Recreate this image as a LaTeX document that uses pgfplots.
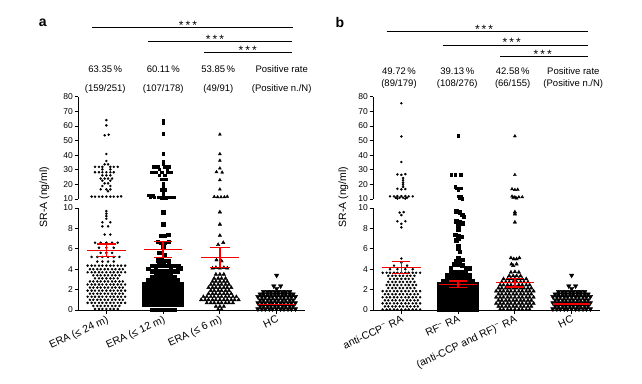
\documentclass[border=0pt]{standalone}
\usepackage{fontspec}
\setmainfont{Liberation Sans}
\usepackage{pgfplots}
\pgfplotsset{compat=1.18}
\definecolor{mred}{RGB}{245,0,0}
\pgfplotsset{
  brk/.style={scale only axis, width=227pt, xmin=-0.5, xmax=3.5, clip=false,
    axis line style={line width=0.8pt}, tick style={line width=0.8pt, black},
    tick align=outside, major tick length=3.5pt,
    /pgf/number format/assume math mode=true,
    yticklabel style={font=\fontsize{8.5}{10}\selectfont, inner sep=1.5pt}},
  lowax/.style={brk, height=102pt, ymin=0, ymax=10, ytick={0,2,4,6,8,10},
    axis x line*=bottom, axis y line*=left, xtick={0,1,2,3},
    xticklabel style={font=\fontsize{10.5}{12}\selectfont, rotate=25, anchor=north east, inner sep=1pt}},
  upax/.style={brk, height=102.3pt, ymin=10, ymax=80, ytick={10,20,...,80},
    axis x line=none, axis y line*=left, xtick=\empty},
  ovl/.style={scale only axis, width=227pt, height=102pt, xmin=-0.5, xmax=3.5, ymin=0, ymax=10, hide axis, clip=false},
  dots/.style={only marks, mark=*, mark size=1.05pt, black},
  sqs/.style={only marks, mark=square*, mark size=1.75pt, black},
  sqsu/.style={only marks, mark=square*, mark size=1.3pt, black},
  tri/.style={only marks, mark=triangle*, mark size=2pt, black},
  triu/.style={only marks, mark=triangle*, mark size=1.7pt, black},
  itri/.style={only marks, mark=triangle*, mark size=2.6pt, black, mark options={rotate=180}},
  mn/.style={draw=mred, color=mred, line width=1.3pt, no marks, solid},
}
\begin{document}
\begin{tikzpicture}[x=1pt,y=1pt]
\path[use as bounding box] (0,0) rectangle (642,383);
% ================= PANEL A lower =================
\begin{axis}[lowax, at={(78pt,73pt)}, anchor=south west,
  xticklabels={ERA (≤ 24 m), ERA (≤ 12 m), ERA (≤ 6 m), HC}]
\addplot[dots] coordinates {
(-.2,.1)(-.13,.1)(-.07,.1)(0,.1)(.07,.1)(.13,.1)(.2,.1)
(-.23,.4)(-.16,.4)(-.1,.4)(-.03,.4)(.03,.4)(.1,.4)(.16,.4)(.23,.4)
(-.33,.7)(-.26,.7)(-.2,.7)(-.13,.7)(-.07,.7)(0,.7)(.07,.7)(.13,.7)(.2,.7)(.26,.7)(.33,.7)
(-.29,1)(-.23,1)(-.16,1)(-.1,1)(-.03,1)(.03,1)(.1,1)(.16,1)(.23,1)(.29,1)
(-.33,1.3)(-.26,1.3)(-.2,1.3)(-.13,1.3)(-.07,1.3)(0,1.3)(.07,1.3)(.13,1.3)(.2,1.3)(.26,1.3)(.33,1.3)
(-.29,1.6)(-.23,1.6)(-.16,1.6)(-.1,1.6)(-.03,1.6)(.03,1.6)(.1,1.6)(.16,1.6)(.23,1.6)(.29,1.6)
(-.33,1.9)(-.26,1.9)(-.2,1.9)(-.13,1.9)(-.07,1.9)(0,1.9)(.07,1.9)(.13,1.9)(.2,1.9)(.26,1.9)(.33,1.9)
(-.29,2.2)(-.23,2.2)(-.16,2.2)(-.1,2.2)(-.03,2.2)(.03,2.2)(.1,2.2)(.16,2.2)(.23,2.2)(.29,2.2)
(-.33,2.5)(-.26,2.5)(-.2,2.5)(-.13,2.5)(-.07,2.5)(0,2.5)(.07,2.5)(.13,2.5)(.2,2.5)(.26,2.5)(.33,2.5)
(-.29,2.8)(-.23,2.8)(-.16,2.8)(-.1,2.8)(-.03,2.8)(.03,2.8)(.1,2.8)(.16,2.8)(.23,2.8)(.29,2.8)
(-.2,3.1)(-.13,3.1)(-.07,3.1)(0,3.1)(.07,3.1)(.13,3.1)(.2,3.1)
(-.23,3.4)(-.16,3.4)(-.1,3.4)(-.03,3.4)(.03,3.4)(.1,3.4)(.16,3.4)(.23,3.4)
(-.33,3.7)(-.26,3.7)(-.2,3.7)(-.13,3.7)(-.07,3.7)(0,3.7)(.07,3.7)(.13,3.7)(.2,3.7)(.26,3.7)(.33,3.7)
(-.29,4)(-.23,4)(-.16,4)(-.1,4)(-.03,4)(.03,4)(.1,4)(.16,4)(.23,4)(.29,4)
(-.33,4.35)(-.26,4.35)(-.2,4.35)(-.13,4.35)(-.07,4.35)(0,4.35)(.07,4.35)(.13,4.35)(.2,4.35)(.26,4.35)(.33,4.35)
(-.16,4.75)(-.07,4.75)(.03,4.75)(.13,4.75)
(-.26,5.2)(-.16,5.2)(-.07,5.2)(.03,5.2)(.13,5.2)(.23,5.2)
(-.1,5.6)(0,5.6)(.1,5.6)(-.13,6.1)(0,6.1)(.13,6.1)
(-.2,6.6)(-.1,6.6)(0,6.6)(.1,6.6)(.2,6.6)
(-.03,7.4)(.07,7.4)(-.07,8.2)(.03,8.2)(-.07,8.6)(.07,8.6)
(0,8.95)(0,9.2)(0,9.45)(0,9.7)
};
\addplot[sqs] coordinates {
(.8,.05)(.87,.05)(.93,.05)(1,.05)(1.07,.05)(1.13,.05)(1.2,.05)
(.67,.5)(.74,.5)(.8,.5)(.87,.5)(.93,.5)(1,.5)(1.07,.5)(1.13,.5)(1.2,.5)(1.26,.5)(1.33,.5)
(.67,.8)(.74,.8)(.8,.8)(.87,.8)(.93,.8)(1,.8)(1.07,.8)(1.13,.8)(1.2,.8)(1.26,.8)(1.33,.8)
(.67,1.1)(.74,1.1)(.8,1.1)(.87,1.1)(.93,1.1)(1,1.1)(1.07,1.1)(1.13,1.1)(1.2,1.1)(1.26,1.1)(1.33,1.1)
(.67,1.4)(.74,1.4)(.8,1.4)(.87,1.4)(.93,1.4)(1,1.4)(1.07,1.4)(1.13,1.4)(1.2,1.4)(1.26,1.4)(1.33,1.4)
(.67,1.7)(.74,1.7)(.8,1.7)(.87,1.7)(.93,1.7)(1,1.7)(1.07,1.7)(1.13,1.7)(1.2,1.7)(1.26,1.7)(1.33,1.7)
(.67,2)(.74,2)(.8,2)(.87,2)(.93,2)(1,2)(1.07,2)(1.13,2)(1.2,2)(1.26,2)(1.33,2)
(.67,2.3)(.74,2.3)(.8,2.3)(.87,2.3)(.93,2.3)(1,2.3)(1.07,2.3)(1.13,2.3)(1.2,2.3)(1.26,2.3)(1.33,2.3)
(.67,2.6)(.74,2.6)(.8,2.6)(.87,2.6)(.93,2.6)(1,2.6)(1.07,2.6)(1.13,2.6)(1.2,2.6)(1.26,2.6)(1.33,2.6)
(.74,2.9)(.8,2.9)(.87,2.9)(.93,2.9)(1,2.9)(1.07,2.9)(1.13,2.9)(1.2,2.9)(1.26,2.9)
(.8,3.2)(.87,3.2)(.93,3.2)(1,3.2)(1.07,3.2)(1.13,3.2)(1.2,3.2)
(.87,3.5)(.93,3.5)(1,3.5)(1.07,3.5)(1.13,3.5)
(.8,3.8)(.87,3.8)(.93,3.8)(1,3.8)(1.07,3.8)(1.13,3.8)(1.2,3.8)(1.26,3.8)
(.74,4.05)(.87,4.1)(1.13,4.1)(1.3,4.1)
(.8,4.35)(.87,4.35)(.93,4.4)(1,4.4)(1.07,4.35)(1.13,4.35)(1.2,4.35)(1.27,4.3)
(.9,4.9)(.97,4.9)(1.03,4.85)(1.1,4.8)(1.03,5.4)(.93,5.6)(1,6.2)
(.9,6.7)(.97,6.6)(1.03,6.6)(1.1,6.7)(.97,7.3)(1.03,7.3)(1.09,7.4)
(1,8.4)(1,9.6)
};
\addplot[tri] coordinates {
(1.97,.05)(2.03,.05)(1.93,.35)(2,.35)(2.07,.35)
(1.77,.7)(1.84,.7)(1.9,.7)(1.97,.7)(2.03,.7)(2.1,.7)(2.16,.7)(2.23,.7)
(1.67,1)(1.74,1)(1.8,1)(1.87,1)(1.93,1)(2,1)(2.07,1)(2.13,1)(2.2,1)(2.26,1)(2.33,1)
(1.71,1.3)(1.77,1.3)(1.84,1.3)(1.9,1.3)(1.97,1.3)(2.03,1.3)(2.1,1.3)(2.16,1.3)(2.23,1.3)(2.29,1.3)
(1.8,1.6)(1.87,1.6)(1.93,1.6)(2,1.6)(2.07,1.6)(2.13,1.6)(2.2,1.6)
(1.84,1.9)(1.9,1.9)(1.97,1.9)(2.03,1.9)(2.1,1.9)(2.16,1.9)
(1.8,2.2)(1.87,2.2)(1.93,2.2)(2,2.2)(2.07,2.2)(2.13,2.2)(2.2,2.2)
(1.84,2.5)(1.9,2.5)(1.97,2.5)(2.03,2.5)(2.1,2.5)(2.16,2.5)
(1.87,2.8)(1.93,2.8)(2,2.8)(2.07,2.8)(2.13,2.8)
(1.9,3.1)(1.97,3.1)(2.03,3.1)(2.1,3.1)
(1.93,3.5)(2,3.5)(2.07,3.5)
(1.87,4.1)(1.93,4.15)(2,4.1)(2.07,4.15)(2.13,4.1)
(1.94,4.9)(2.03,4.8)(1.97,6.4)(2.06,6.6)(2,7.3)(2,8.4)(2,9.6)
};
\addplot[itri] coordinates {
(2.67,.1)(2.74,.1)(2.8,.1)(2.87,.1)(2.93,.1)(3,.1)(3.07,.1)(3.13,.1)(3.2,.1)(3.26,.1)(3.33,.1)
(2.71,.4)(2.77,.4)(2.84,.4)(2.9,.4)(2.97,.4)(3.03,.4)(3.1,.4)(3.16,.4)(3.23,.4)(3.29,.4)
(2.67,.7)(2.74,.7)(2.8,.7)(2.87,.7)(2.93,.7)(3,.7)(3.07,.7)(3.13,.7)(3.2,.7)(3.26,.7)(3.33,.7)
(2.71,1)(2.77,1)(2.84,1)(2.9,1)(2.97,1)(3.03,1)(3.1,1)(3.16,1)(3.23,1)(3.29,1)
(2.67,1.3)(2.74,1.3)(2.8,1.3)(2.87,1.3)(2.93,1.3)(3,1.3)(3.07,1.3)(3.13,1.3)(3.2,1.3)(3.26,1.3)(3.33,1.3)
(2.71,1.55)(2.77,1.55)(2.84,1.55)(2.9,1.55)(2.97,1.55)(3.03,1.55)(3.1,1.55)(3.16,1.55)(3.23,1.55)(3.29,1.55)
(2.77,1.8)(2.84,1.8)(2.9,1.8)(2.97,1.8)(3.03,1.8)(3.1,1.8)(3.16,1.8)(3.23,1.8)
(2.95,2.35)(3,2.1)(3.07,2.35)(3,3.4)
};
\end{axis}
% mean +- SEM overlay, panel a
\begin{axis}[ovl, at={(78pt,73pt)}, anchor=south west]
\addplot[mn] coordinates {(-.34,5.85)(.34,5.85)};
\addplot[mn] coordinates {(0,5.23)(0,6.47)};
\addplot[mn] coordinates {(-.17,5.23)(.17,5.23)};
\addplot[mn] coordinates {(-.17,6.47)(.17,6.47)};
\addplot[mn] coordinates {(.66,5.95)(1.34,5.95)};
\addplot[mn] coordinates {(1,5.17)(1,6.7)};
\addplot[mn] coordinates {(.84,5.17)(1.16,5.17)};
\addplot[mn] coordinates {(.84,6.7)(1.16,6.7)};
\addplot[mn] coordinates {(1.66,5.16)(2.34,5.16)};
\addplot[mn] coordinates {(2,4.19)(2,6.15)};
\addplot[mn] coordinates {(1.82,4.19)(2.18,4.19)};
\addplot[mn] coordinates {(1.82,6.15)(2.18,6.15)};
\addplot[mn] coordinates {(2.67,.56)(3.33,.56)};
\end{axis}
% ================= PANEL A upper =================
\begin{axis}[upax, at={(78pt,184pt)}, anchor=south west]
\addplot[dots] coordinates {
(0,64)(0,60.4)(-.03,53.6)(.04,54)(0,40.8)(0,36)(-.03,33.7)(.03,33.7)
(-.2,32)(-.13,32)(-.07,32)(.07,32)(.13,32)(.2,32)(-.07,30.3)(.07,30.3)
(-.2,28.3)(-.13,28.3)(-.07,28.3)(0,28.3)(.07,28.3)(.13,28.3)
(-.07,26.2)(0,26.2)(.07,26.2)(-.1,24)(-.03,24)(.03,24)(.1,24)
(-.07,22.5)(.07,22.5)(-.03,20.7)(.03,20.7)(-.07,18.9)(.07,18.9)
(-.1,16.6)(0,16.6)(.07,16.6)(.03,15.3)
(-.26,11.6)(-.2,11.6)(-.13,11.6)(-.07,11.6)(0,11.6)(.07,11.6)(.13,11.6)(.2,11.6)(.26,11.8)
};
\addplot[sqsu] coordinates {
(1,64)(1,62)(1,54.5)(1,40.8)(1,36)(1,34)(.83,32)(.9,32)(1.03,32)(1.1,32)
(.93,30.3)(1.07,30.3)(.8,28.3)(.87,28.3)(.97,28.3)(1.07,28.3)(1.13,28.3)
(.93,26.4)(1.03,26.4)(.97,23.5)(1.05,23.5)(1,20.7)(1,18.4)
(.97,16.5)(1.03,16.5)(1,14.3)(.75,12.6)(.82,12.3)(1,12.8)
(.77,11.3)(.84,11.3)(.91,11.1)(.98,11)(1.05,11)(1.12,11.2)(1.19,11.3)
};
\addplot[triu] coordinates {
(2,54.2)(2,40.8)(2,36.3)(2,31)(1.94,28.5)(2.04,28.2)(2,23)(2,16.6)
(1.9,11.5)(1.96,11.3)(2.02,11.3)(2.08,11.3)(2.13,11.6)
};
\end{axis}
% ================= PANEL B lower =================
\begin{axis}[lowax, at={(373pt,73pt)}, anchor=south west,
  xticklabels={anti-CCP\textsuperscript{−} RA, RF\textsuperscript{−} RA, {(anti-CCP and RF)\textsuperscript{−} RA}, HC}]
\addplot[dots] coordinates {
(-.33,.05)(-.26,.05)(-.2,.05)(-.13,.05)(-.07,.05)(0,.05)(.07,.05)(.13,.05)(.2,.05)(.26,.05)(.33,.05)
(-.29,.35)(-.23,.35)(-.16,.35)(-.1,.35)(-.03,.35)(.03,.35)(.1,.35)(.16,.35)(.23,.35)(.29,.35)
(-.33,.65)(-.26,.65)(-.2,.65)(-.13,.65)(-.07,.65)(0,.65)(.07,.65)(.13,.65)(.2,.65)(.26,.65)(.33,.65)
(-.29,.95)(-.23,.95)(-.16,.95)(-.1,.95)(-.03,.95)(.03,.95)(.1,.95)(.16,.95)(.23,.95)(.29,.95)
(-.33,1.25)(-.26,1.25)(-.2,1.25)(-.13,1.25)(-.07,1.25)(0,1.25)(.07,1.25)(.13,1.25)(.2,1.25)(.26,1.25)(.33,1.25)
(-.29,1.55)(-.23,1.55)(-.16,1.55)(-.1,1.55)(-.03,1.55)(.03,1.55)(.1,1.55)(.16,1.55)(.23,1.55)(.29,1.55)
(-.33,1.85)(-.26,1.85)(-.2,1.85)(-.13,1.85)(-.07,1.85)(0,1.85)(.07,1.85)(.13,1.85)(.2,1.85)(.26,1.85)(.33,1.85)
(-.23,2.15)(-.16,2.15)(-.1,2.15)(-.03,2.15)(.03,2.15)(.1,2.15)(.16,2.15)(.23,2.15)
(-.26,2.45)(-.2,2.45)(-.13,2.45)(-.07,2.45)(0,2.45)(.07,2.45)(.13,2.45)(.2,2.45)(.26,2.45)
(-.23,2.75)(-.16,2.75)(-.1,2.75)(-.03,2.75)(.03,2.75)(.1,2.75)(.16,2.75)(.23,2.75)
(-.2,3.05)(-.13,3.05)(-.07,3.05)(0,3.05)(.07,3.05)(.13,3.05)(.2,3.05)
(-.23,3.35)(-.16,3.35)(-.1,3.35)(-.03,3.35)(.03,3.35)(.1,3.35)(.16,3.35)(.23,3.35)
(-.33,3.65)(-.26,3.65)(-.2,3.65)(-.13,3.65)(-.07,3.65)(0,3.65)(.07,3.65)(.13,3.65)(.2,3.65)(.26,3.65)(.33,3.65)
(-.2,4)(-.07,4)(.07,4)(.2,4)(-.13,4.35)(.1,4.35)(0,4.65)(0,5.05)
(0,8.1)(-.07,8.7)(0,8.45)(.07,8.7)(-.03,9.55)(.04,9.6)(0,9.3)
};
\addplot[sqs] coordinates {
(.67,.05)(.74,.05)(.8,.05)(.87,.05)(.93,.05)(1,.05)(1.07,.05)(1.13,.05)(1.2,.05)(1.26,.05)(1.33,.05)
(.67,.45)(.74,.45)(.8,.45)(.87,.45)(.93,.45)(1,.45)(1.07,.45)(1.13,.45)(1.2,.45)(1.26,.45)(1.33,.45)
(.67,.75)(.74,.75)(.8,.75)(.87,.75)(.93,.75)(1,.75)(1.07,.75)(1.13,.75)(1.2,.75)(1.26,.75)(1.33,.75)
(.67,1.05)(.74,1.05)(.8,1.05)(.87,1.05)(.93,1.05)(1,1.05)(1.07,1.05)(1.13,1.05)(1.2,1.05)(1.26,1.05)(1.33,1.05)
(.67,1.35)(.74,1.35)(.8,1.35)(.87,1.35)(.93,1.35)(1,1.35)(1.07,1.35)(1.13,1.35)(1.2,1.35)(1.26,1.35)(1.33,1.35)
(.67,1.65)(.74,1.65)(.8,1.65)(.87,1.65)(.93,1.65)(1,1.65)(1.07,1.65)(1.13,1.65)(1.2,1.65)(1.26,1.65)(1.33,1.65)
(.67,1.95)(.74,1.95)(.8,1.95)(.87,1.95)(.93,1.95)(1,1.95)(1.07,1.95)(1.13,1.95)(1.2,1.95)(1.26,1.95)(1.33,1.95)
(.67,2.25)(.74,2.25)(.8,2.25)(.87,2.25)(.93,2.25)(1,2.25)(1.07,2.25)(1.13,2.25)(1.2,2.25)(1.26,2.25)(1.33,2.25)
(.67,2.55)(.74,2.55)(.8,2.55)(.87,2.55)(.93,2.55)(1,2.55)(1.07,2.55)(1.13,2.55)(1.2,2.55)(1.26,2.55)(1.33,2.55)
(.74,2.85)(.8,2.85)(.87,2.85)(.93,2.85)(1,2.85)(1.07,2.85)(1.13,2.85)(1.2,2.85)(1.26,2.85)
(.8,3.15)(.87,3.15)(.93,3.15)(1,3.15)(1.07,3.15)(1.13,3.15)(1.2,3.15)
(.8,3.45)(.87,3.45)(.93,3.45)(1,3.45)(1.07,3.45)(1.13,3.45)(1.2,3.45)
(.87,3.75)(.93,3.75)(1,3.75)(1.07,3.75)(1.13,3.75)
(.87,4.1)(1.13,4.1)(1.2,4.1)(.93,4.5)(1,4.45)(1.07,4.4)
(.97,4.85)(1.03,4.9)(1.07,4.95)(1,5.1)(1.03,5.7)(1,6)(1,6.3)
(.97,6.85)(1,7)(1.05,7.2)(1,7.3)(.95,7.4)(1,7.9)
(1,8.4)(1.07,8.5)(1.03,8.6)(.97,8.7)(1.1,9.15)(1.07,9.35)(1.03,9.6)(.97,9.7)
};
\addplot[tri] coordinates {
(1.74,.05)(1.8,.05)(1.87,.05)(1.93,.05)(2,.05)(2.07,.05)(2.13,.05)(2.2,.05)(2.26,.05)
(1.71,.35)(1.77,.35)(1.84,.35)(1.9,.35)(1.97,.35)(2.03,.35)(2.1,.35)(2.16,.35)(2.23,.35)(2.29,.35)
(1.67,.65)(1.74,.65)(1.8,.65)(1.87,.65)(1.93,.65)(2,.65)(2.07,.65)(2.13,.65)(2.2,.65)(2.26,.65)(2.33,.65)
(1.71,.95)(1.77,.95)(1.84,.95)(1.9,.95)(1.97,.95)(2.03,.95)(2.1,.95)(2.16,.95)(2.23,.95)(2.29,.95)
(1.67,1.25)(1.74,1.25)(1.8,1.25)(1.87,1.25)(1.93,1.25)(2,1.25)(2.07,1.25)(2.13,1.25)(2.2,1.25)(2.26,1.25)(2.33,1.25)
(1.71,1.55)(1.77,1.55)(1.84,1.55)(1.9,1.55)(1.97,1.55)(2.03,1.55)(2.1,1.55)(2.16,1.55)(2.23,1.55)(2.29,1.55)
(1.67,1.85)(1.74,1.85)(1.8,1.85)(1.87,1.85)(1.93,1.85)(2,1.85)(2.07,1.85)(2.13,1.85)(2.2,1.85)(2.26,1.85)(2.33,1.85)
(1.71,2.15)(1.77,2.15)(1.84,2.15)(1.9,2.15)(1.97,2.15)(2.03,2.15)(2.1,2.15)(2.16,2.15)(2.23,2.15)(2.29,2.15)
(1.74,2.45)(1.8,2.45)(1.87,2.45)(1.93,2.45)(2,2.45)(2.07,2.45)(2.13,2.45)(2.2,2.45)(2.26,2.45)
(1.77,2.75)(1.84,2.75)(1.9,2.75)(1.97,2.75)(2.03,2.75)(2.1,2.75)(2.16,2.75)(2.23,2.75)
(1.8,3.05)(1.87,3.05)(1.93,3.05)(2,3.05)(2.07,3.05)(2.13,3.05)(2.2,3.05)
(1.9,3.35)(1.97,3.35)(2.03,3.35)(2.1,3.35)
(1.93,3.7)(2,3.75)(2.07,3.7)(1.97,4.35)(1.94,4.5)(2.03,4.5)
(1.93,5.1)(1.98,5)(2.03,5)(2.08,5.1)(2,8.6)(2,9.4)(2,9.6)
};
\addplot[itri] coordinates {
(2.67,.1)(2.74,.1)(2.8,.1)(2.87,.1)(2.93,.1)(3,.1)(3.07,.1)(3.13,.1)(3.2,.1)(3.26,.1)(3.33,.1)
(2.71,.4)(2.77,.4)(2.84,.4)(2.9,.4)(2.97,.4)(3.03,.4)(3.1,.4)(3.16,.4)(3.23,.4)(3.29,.4)
(2.67,.7)(2.74,.7)(2.8,.7)(2.87,.7)(2.93,.7)(3,.7)(3.07,.7)(3.13,.7)(3.2,.7)(3.26,.7)(3.33,.7)
(2.71,1)(2.77,1)(2.84,1)(2.9,1)(2.97,1)(3.03,1)(3.1,1)(3.16,1)(3.23,1)(3.29,1)
(2.67,1.3)(2.74,1.3)(2.8,1.3)(2.87,1.3)(2.93,1.3)(3,1.3)(3.07,1.3)(3.13,1.3)(3.2,1.3)(3.26,1.3)(3.33,1.3)
(2.71,1.55)(2.77,1.55)(2.84,1.55)(2.9,1.55)(2.97,1.55)(3.03,1.55)(3.1,1.55)(3.16,1.55)(3.23,1.55)(3.29,1.55)
(2.77,1.8)(2.84,1.8)(2.9,1.8)(2.97,1.8)(3.03,1.8)(3.1,1.8)(3.16,1.8)(3.23,1.8)
(2.95,2.35)(3,2.1)(3.07,2.35)(3,3.4)
};
\end{axis}
% mean +- SEM overlay, panel b
\begin{axis}[ovl, at={(373pt,73pt)}, anchor=south west]
\addplot[mn] coordinates {(-.34,4.19)(.34,4.19)};
\addplot[mn] coordinates {(0,3.6)(0,4.74)};
\addplot[mn] coordinates {(-.16,3.6)(.16,3.6)};
\addplot[mn] coordinates {(-.16,4.74)(.16,4.74)};
\addplot[mn] coordinates {(.66,2.52)(1.34,2.52)};
\addplot[mn] coordinates {(1,2.22)(1,2.84)};
\addplot[mn] coordinates {(.84,2.22)(1.16,2.22)};
\addplot[mn] coordinates {(.84,2.84)(1.16,2.84)};
\addplot[mn] coordinates {(1.66,2.71)(2.34,2.71)};
\addplot[mn] coordinates {(2,2.25)(2,3.1)};
\addplot[mn] coordinates {(1.84,2.25)(2.16,2.25)};
\addplot[mn] coordinates {(1.84,3.1)(2.16,3.1)};
\addplot[mn] coordinates {(2.67,.6)(3.33,.6)};
\end{axis}
% ================= PANEL B upper =================
\begin{axis}[upax, at={(373pt,184pt)}, anchor=south west]
\addplot[dots] coordinates {
(0,75.5)(0,52.8)(0,35.3)(-.07,26.8)(0,26.5)(.07,27)(.03,24.3)(.03,22.8)(.03,21.2)(.03,19.8)(.03,18.3)
(-.07,17)(0,16.6)(.07,16.8)(-.2,11.8)(-.13,11.8)(-.07,12)(0,12)(.07,12)(.13,11.8)(.2,11.8)
(-.1,10.9)(-.03,10.9)(.03,10.9)(.1,10.9)(-.07,10.3)(.07,10.3)
};
\addplot[sqsu] coordinates {
(1,53.2)(.88,26.5)(.95,26.8)(1.05,26.7)(.95,18.3)(.97,17.3)(1,16.5)(1.05,17.5)
(1,11.8)(1.05,11.5)(1.02,10.8)(1.07,10.3)
};
\addplot[triu] coordinates {
(2,53)(2,26.5)(1.95,16.8)(2,16.3)(2.05,16.5)(1.95,11.8)(2,11.3)(2.07,11.3)(2.13,11.3)(1.97,10.9)(2.03,10.5)
};
\end{axis}
% ================= annotations =================
\node[rotate=90, font=\fontsize{10.5}{12}\selectfont] at (44.5,186) {SR-A (ng/ml)};
\node[rotate=90, font=\fontsize{10.5}{12}\selectfont] at (343.5,186) {SR-A (ng/ml)};
\node[font=\fontsize{14}{16}\selectfont\bfseries] at (42.7,360.3) {a};
\node[font=\fontsize{14}{16}\selectfont\bfseries] at (340,360.3) {b};
\begin{scope}[line width=0.8pt]
\draw (91.7,355.7) -- (292.7,355.7);
\draw (147.7,341.7) -- (292,341.7);
\draw (204,330.7) -- (292,330.7);
\draw (386.7,351.3) -- (588.3,351.3);
\draw (442.7,338) -- (588,338);
\draw (500,326.3) -- (588,326.3);
\end{scope}
\begin{scope}[every node/.style={anchor=base, inner sep=0pt, font=\fontsize{12}{14}\selectfont}]
\node at (188,353.7) {*\,*\,*};
\node at (215,339.7) {*\,*\,*};
\node at (247.7,328.7) {*\,*\,*};
\node at (484,349.3) {*\,*\,*};
\node at (511.7,336) {*\,*\,*};
\node at (542.7,324.3) {*\,*\,*};
\end{scope}
\begin{scope}[every node/.style={anchor=base, inner sep=0pt, font=\fontsize{9.5}{11}\selectfont}]
\node at (105.3,310.3) {63.35\,\%};
\node at (163.3,310.3) {60.11\,\%};
\node at (218.3,310.3) {53.85\,\%};
\node at (281.7,310.3) {Positive rate};
\node at (105.3,291.7) {(159/251)};
\node at (163.3,291.7) {(107/178)};
\node at (218.3,291.7) {(49/91)};
\node at (281.7,291.7) {(Positive n./N)};
\node at (399,308.6) {49.72\,\%};
\node at (457.3,308.6) {39.13\,\%};
\node at (512.7,308.6) {42.58\,\%};
\node at (573.3,308.6) {Positive rate};
\node at (399,296.3) {(89/179)};
\node at (457.3,296.3) {(108/276)};
\node at (512.7,296.3) {(66/155)};
\node at (573.3,296.3) {(Positive n./N)};
\end{scope}
\end{tikzpicture}
\end{document}
